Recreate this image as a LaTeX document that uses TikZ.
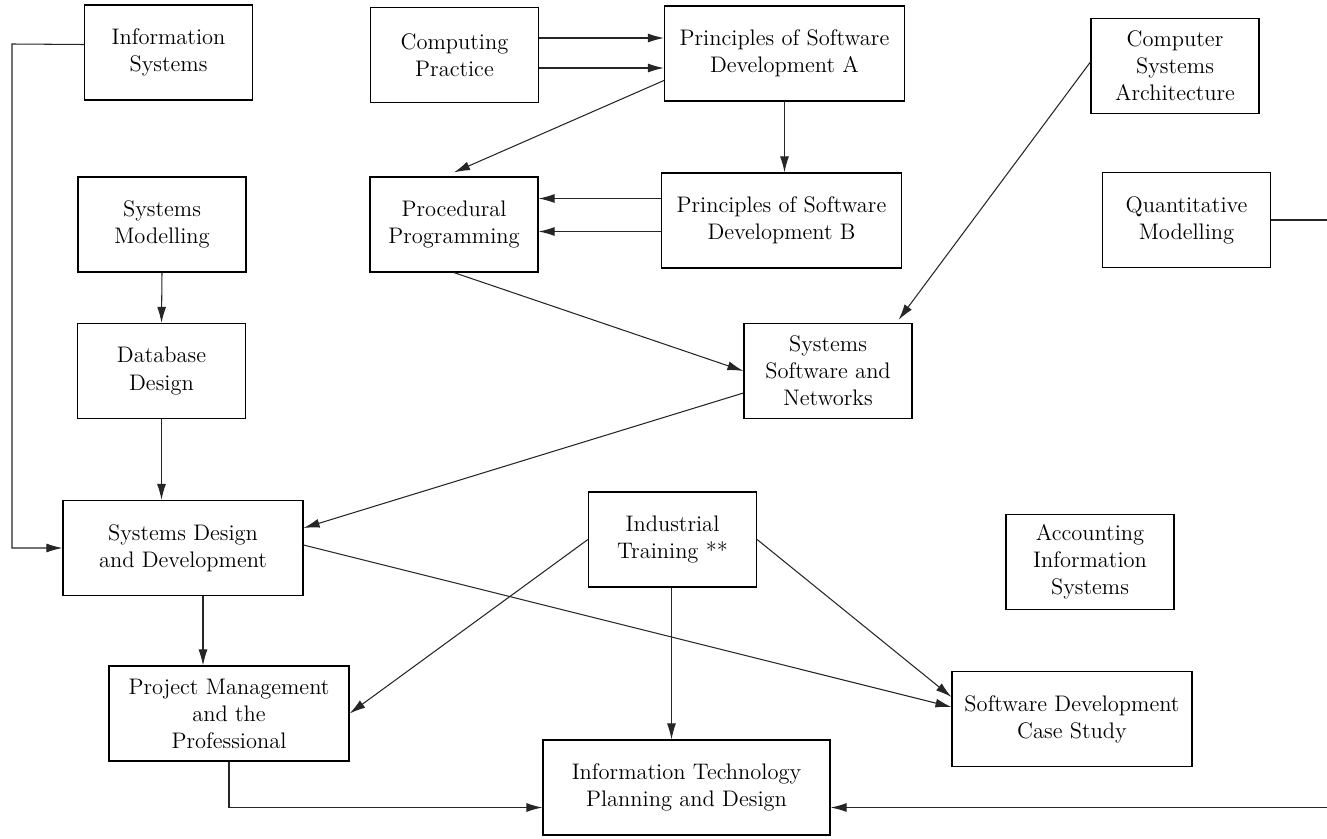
\documentclass[tikz,border=0pt]{standalone}
\usepackage{tikz}
\usetikzlibrary{arrows.meta,calc}

\tikzset{
  unit/.style={draw, align=center, inner sep=2pt, line width=0.7pt,
    minimum width=3.36cm, minimum height=1.9cm,
    font=\fontsize{12.8}{15.4}\selectfont},
  wideunit/.style={unit, minimum width=4.8cm},
  prereq/.style={draw=black!85, line width=0.6pt,
    -{Latex[length=3.2mm,width=1.8mm]}}
}

\begin{document}
\begin{tikzpicture}[x=0.02cm,y=-0.02cm]
\useasboundingbox (0,0) rectangle (1327,838);

\node[unit] (infosys) at (168.5,52.5) {Information\\Systems};
\node[unit] (comppract) at (454.5,55) {Computing\\Practice};
\node[wideunit] (psda) at (784.5,53.5) {Principles of Software\\Development A};
\node[unit] (csa) at (1175,66) {Computer\\Systems\\Architecture};
\node[unit] (sysmod) at (162,224.5) {Systems\\Modelling};
\node[unit] (procprog) at (454,224.5) {Procedural\\Programming};
\node[wideunit] (psdb) at (781.5,220.5) {Principles of Software\\Development B};
\node[unit] (quantmod) at (1186.5,220) {Quantitative\\Modelling};
\node[unit] (dbdesign) at (161.5,371) {Database\\Design};
\node[unit] (ssn) at (828,371) {Systems\\Software and\\Networks};
\node[wideunit] (sysdesign) at (183,548) {Systems Design\\and Development};
\node[unit] (indtrain) at (672.5,539.5) {Industrial\\Training **};
\node[unit] (accinfo) at (1090,562) {Accounting\\Information\\Systems};
\node[wideunit] (projmgmt) at (229,713.5) {Project Management\\and the\\Professional};
\node[wideunit] (swdcs) at (1072,719) {Software Development\\Case Study};
\node[unit, minimum width=5.74cm] (itplan) at (686.5,787.5) {Information Technology\\Planning and Design};

\coordinate (isbend) at (12,44);
\coordinate (qmbend) at (1345,220);

\draw[prereq] ($(infosys.west)+(0,-8)$) -- (isbend) |- (sysdesign.west);
\draw[prereq] ($(comppract.east)+(0,-17)$) -- (psda.west |- {$(comppract.east)+(0,-17)$});
\draw[prereq] ($(comppract.east)+(0,13)$) -- (psda.west |- {$(comppract.east)+(0,13)$});
\draw[prereq] ($(psda.west)+(0,27)$) -- ($(procprog.north)+(0,-4)$);
\draw[prereq] (psda.south) -- (psda.south |- psdb.north);
\draw[prereq] ($(psdb.west)+(0,-22)$) -- (procprog.east |- {$(psdb.west)+(0,-22)$});
\draw[prereq] ($(psdb.west)+(0,11)$) -- (procprog.east |- {$(psdb.west)+(0,11)$});
\draw[prereq] ($(csa.west)+(0,-4)$) -- ($(ssn.north east)+(-14,-3)$);
\draw[prereq] (quantmod.east) -- (qmbend) |- ($(itplan.east)+(0,20)$);
\draw[prereq] (procprog.south) -- (ssn.west);
\draw[prereq] (sysmod.south) -- (dbdesign.north);
\draw[prereq] (dbdesign.south) -- (dbdesign.south |- sysdesign.north);
\draw[prereq] ($(ssn.west)+(0,22)$) -- ($(sysdesign.east)+(0,-20)$);
\draw[prereq] ($(sysdesign.south)+(20,0)$) -- ($(projmgmt.north)+(-26,0)$);
\draw[prereq] ($(sysdesign.east)+(0,-3)$) -- ($(swdcs.west)+(0,-12)$);
\draw[prereq] (indtrain.west) -- (projmgmt.east);
\draw[prereq] ($(indtrain.south)+(-1,0)$) -- ($(itplan.north)+(-15,0)$);
\draw[prereq] (indtrain.east) -- ($(swdcs.west)+(0,-22)$);
\draw[prereq] (projmgmt.south) |- ($(itplan.west)+(0,20)$);
\end{tikzpicture}
\end{document}
